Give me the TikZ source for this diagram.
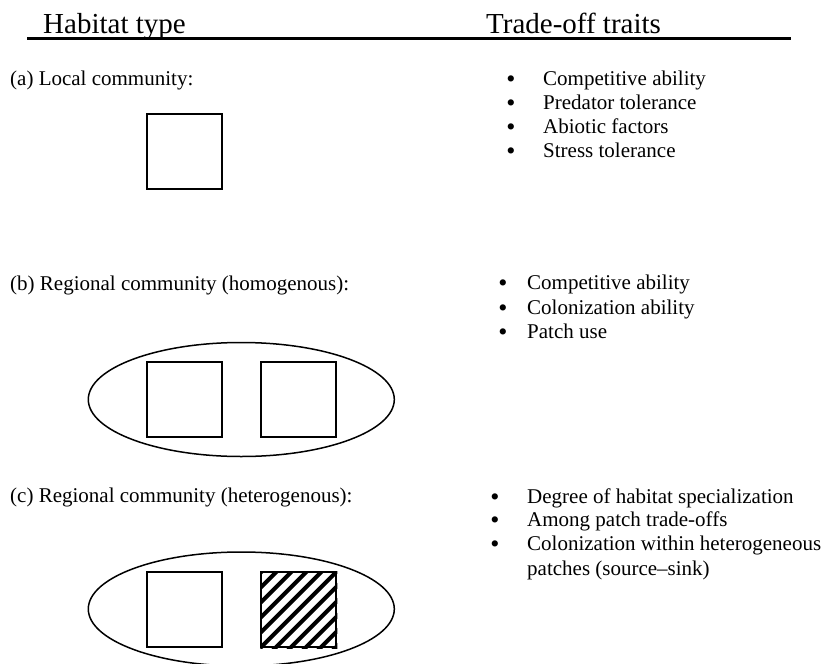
\documentclass[tikz,border=0pt]{standalone}
\usepackage{fontspec}
\setmainfont{Liberation Serif}
\usetikzlibrary{shapes.geometric, calc}

\begin{document}
\begin{tikzpicture}[x=1pt, y=-1pt,
  txt/.style={anchor=base west, inner sep=0, font=\fontsize{21}{24}\selectfont},
  puce/.style={anchor=base, inner sep=0, text height=12pt, text depth=0pt, font=\fontsize{26}{28}\selectfont},
  titre/.style={anchor=base west, inner sep=0, font=\fontsize{29}{32}\selectfont},
  patch/.style={draw, line width=2pt, minimum size=75pt, inner sep=0},
  region/.style={ellipse, draw, line width=1.5pt, minimum width=306pt, minimum height=114pt, inner sep=0}]
  \useasboundingbox (0,0) rectangle (828,664);

  % En-tete
  \node[titre] (H) at (43,33) {Habitat type};
  \node[titre] (T) at (486,33) {Trade-off traits};
  \coordinate (L1) at (27,38.5);
  \coordinate (L2) at (791,38.5);
  \draw[line width=2.5pt] (L1) -- (L2);

  % (a)
  \node[txt] (a) at (10,85) {(a) Local community:};
  \node[patch] (A) at (184.3,151.5) {};
  \foreach \t [count=\i] in {Competitive ability, Predator tolerance, Abiotic factors, Stress tolerance} {
    \node[puce] (pa\i) at (511,63+24*\i) {•};
    \node[txt] (ta\i) at (543,61+24*\i) {\t};
  }

  % (b)
  \node[txt] (b) at (10,290) {(b) Regional community (homogenous):};
  \node[region] (E1) at (241.3,399.5) {};
  \node[patch] (B1) at (184.3,399.4) {};
  \node[patch] (B2) at (298.7,399.4) {};
  \foreach \t [count=\i] in {Competitive ability, Colonization ability, Patch use} {
    \node[puce] (pb\i) at (503,267+24.5*\i) {•};
    \node[txt] (tb\i) at (527,265+24.5*\i) {\t};
  }

  % (c)
  \node[txt] (c) at (10,502) {(c) Regional community (heterogenous):};
  \node[region] (E2) at (241.3,609) {};
  \node[patch] (C1) at (184.3,609.5) {};
  \node[patch] (C2) at (298.8,609.5) {};
  % hachures
  \begin{scope}
    \clip (C2.south west) rectangle (C2.north east);
    \foreach \d in {-90,-75,...,90}
      \draw[line width=4pt] ($(C2.center)+(\d-45,45)$) -- ++(90,-90);
  \end{scope}
  \node[patch] at (C2) {};
  \foreach \t [count=\i] in {Degree of habitat specialization, Among patch trade-offs, Colonization within heterogeneous} {
    \node[puce] (pc\i) at (495,481.5+23.7*\i) {•};
    \node[txt] (tc\i) at (527,479.5+23.7*\i) {\t};
  }
  \node[txt] (tc4) at (527,575) {patches (source--sink)};
\end{tikzpicture}
\end{document}
